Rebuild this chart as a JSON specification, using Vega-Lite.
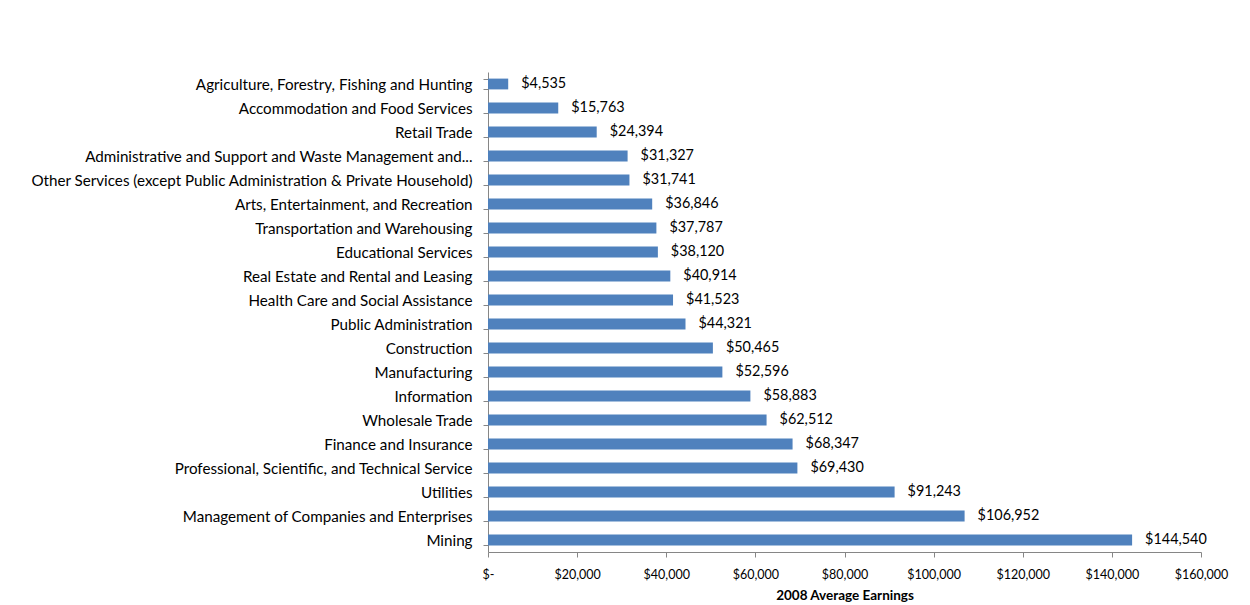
{
  "$schema": "https://vega.github.io/schema/vega-lite/v6.json",
  "width": 713,
  "height": 480,
  "autosize": {"type": "none"},
  "padding": {"left": 488, "top": 72, "right": 49, "bottom": 53},
  "background": "white",
  "config": {"view": {"stroke": null}, "font": "Lato"},
  "data": {"values": [
    {"industry": "Agriculture, Forestry, Fishing and Hunting", "earnings": 4535, "label": "$4,535"},
    {"industry": "Accommodation and Food Services", "earnings": 15763, "label": "$15,763"},
    {"industry": "Retail Trade", "earnings": 24394, "label": "$24,394"},
    {"industry": "Administrative and Support  and Waste Management and...", "earnings": 31327, "label": "$31,327"},
    {"industry": "Other Services (except Public Administration & Private Household)", "earnings": 31741, "label": "$31,741"},
    {"industry": "Arts, Entertainment, and Recreation", "earnings": 36846, "label": "$36,846"},
    {"industry": "Transportation and Warehousing", "earnings": 37787, "label": "$37,787"},
    {"industry": "Educational Services", "earnings": 38120, "label": "$38,120"},
    {"industry": "Real Estate and Rental and Leasing", "earnings": 40914, "label": "$40,914"},
    {"industry": "Health Care and Social Assistance", "earnings": 41523, "label": "$41,523"},
    {"industry": "Public Administration", "earnings": 44321, "label": "$44,321"},
    {"industry": "Construction", "earnings": 50465, "label": "$50,465"},
    {"industry": "Manufacturing", "earnings": 52596, "label": "$52,596"},
    {"industry": "Information", "earnings": 58883, "label": "$58,883"},
    {"industry": "Wholesale Trade", "earnings": 62512, "label": "$62,512"},
    {"industry": "Finance and Insurance", "earnings": 68347, "label": "$68,347"},
    {"industry": "Professional, Scientific, and Technical Service", "earnings": 69430, "label": "$69,430"},
    {"industry": "Utilities", "earnings": 91243, "label": "$91,243"},
    {"industry": "Management of Companies and Enterprises", "earnings": 106952, "label": "$106,952"},
    {"industry": "Mining", "earnings": 144540, "label": "$144,540"}
  ]},
  "encoding": {
    "y": {
      "field": "industry", "type": "nominal", "sort": null,
      "scale": {"paddingInner": 0.55, "paddingOuter": 0.275},
      "axis": {
        "title": null, "tickBand": "extent", "tickSize": 5, "tickColor": "#868686",
        "domainColor": "#868686", "labelFontSize": 15.2, "labelColor": "#000000",
        "labelPadding": 11, "labelLimit": 480, "labelFont": "Lato"
      }
    },
    "x": {
      "field": "earnings", "type": "quantitative",
      "scale": {"domain": [0, 160000], "nice": false},
      "axis": {
        "title": "2008 Average Earnings", "titleFontSize": 13.5, "titleFontWeight": "bold",
        "titleColor": "#000000", "titlePadding": 8, "titleFont": "Lato",
        "values": [0, 20000, 40000, 60000, 80000, 100000, 120000, 140000, 160000],
        "labelExpr": "datum.value === 0 ? '$-  ' : format(datum.value, '$,')",
        "labelFlush": false, "labelOverlap": false,
        "grid": false, "tickSize": 5, "tickColor": "#868686", "domainColor": "#868686",
        "labelFontSize": 12.5, "labelColor": "#000000", "labelPadding": 11, "labelFont": "Lato"
      }
    }
  },
  "layer": [
    {"mark": {"type": "bar", "color": "#4F81BD"}},
    {"mark": {"type": "text", "align": "left", "baseline": "middle", "dx": 13, "fontSize": 14.4, "color": "#000000", "font": "Lato"},
     "encoding": {"text": {"field": "label"}}}
  ]
}
